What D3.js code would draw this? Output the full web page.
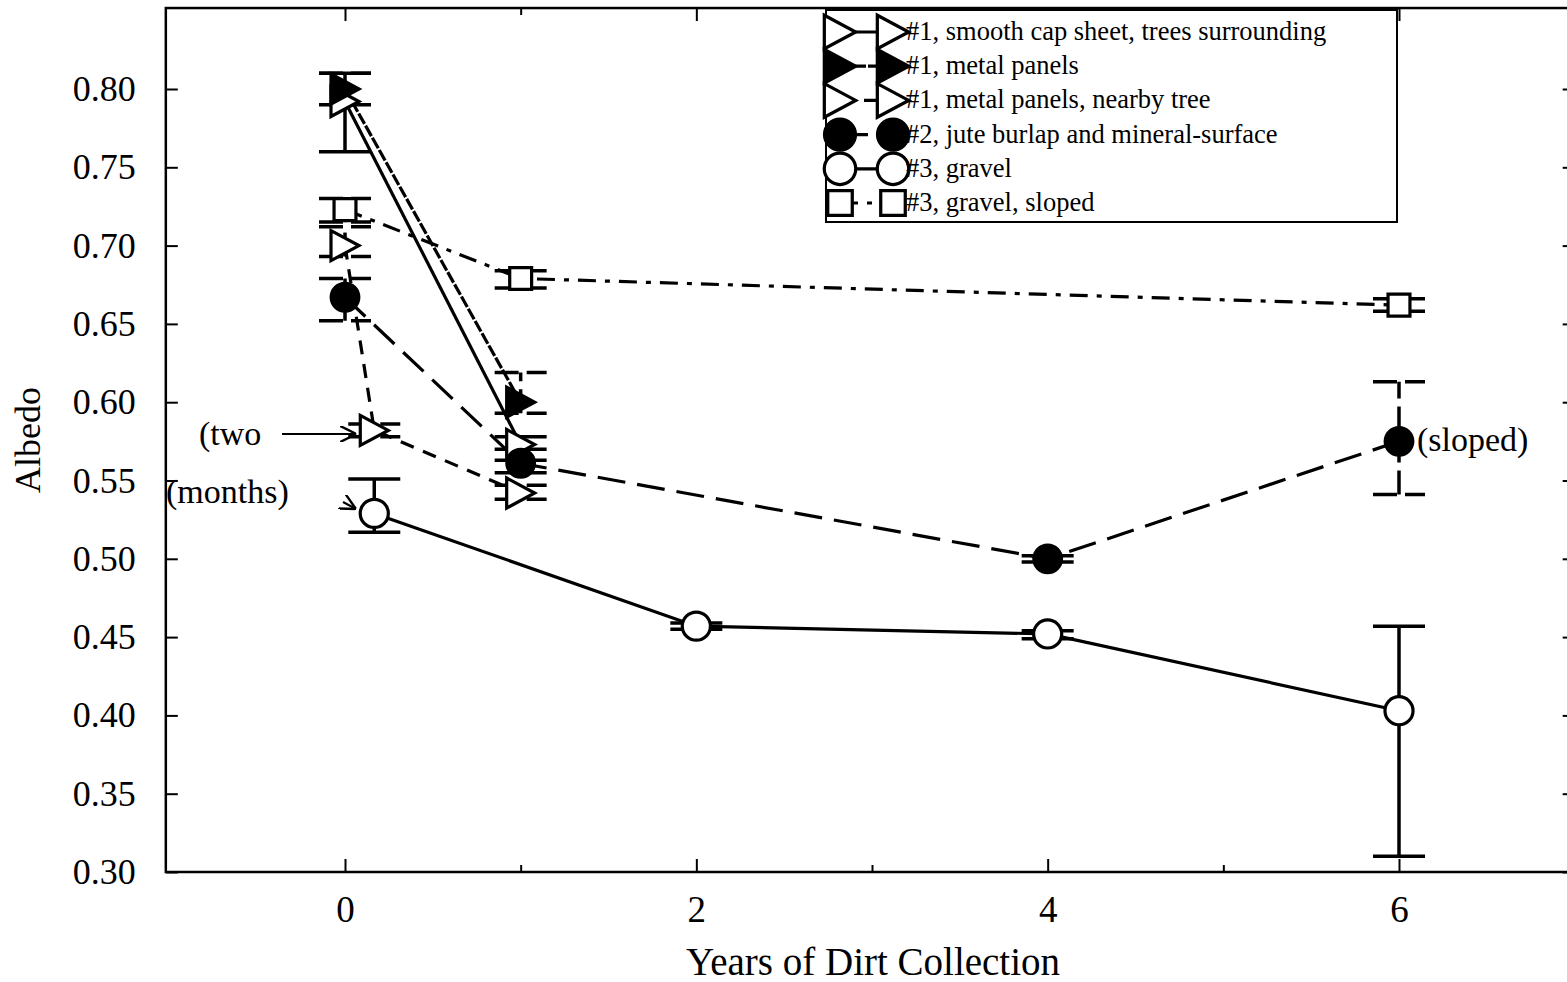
<!DOCTYPE html>
<html>
<head>
<meta charset="utf-8">
<script src="https://cdn.jsdelivr.net/npm/d3@7"></script>
<style>
  body { margin: 0; background: #fff; }
  svg { display: block; }
  text { font-family: "Liberation Serif", "DejaVu Serif", serif; fill: #000; }
</style>
</head>
<body>
<svg id="chart" width="1567" height="982"></svg>
<script>
// values
const yTicks = [0.30, 0.35, 0.40, 0.45, 0.50, 0.55, 0.60, 0.65, 0.70, 0.75, 0.80];
const xMajor = [0, 2, 4, 6];
const xMinor = [1, 3, 5];

const capX  = [0, 1];
const capY  = [0.792, 0.573];
const capLo = [0.760, 0.563];
const capHi = [0.810, 0.578];

const metalX  = [0, 1];
const metalY  = [0.800, 0.600];
const metalLo = [0.790, 0.593];
const metalHi = [0.810, 0.619];

const treeX  = [0, 2 / 12, 1];
const treeY  = [0.700, 0.582, 0.542];
const treeLo = [0.693, 0.578, 0.538];
const treeHi = [0.712, 0.586, 0.547];

const juteX  = [0, 1, 4, 6];
const juteY  = [0.667, 0.561, 0.500, 0.575];
const juteLo = [0.652, 0.555, 0.498, 0.541];
const juteHi = [0.679, 0.570, 0.502, 0.613];

const gravelX  = [2 / 12, 2, 4, 6];
const gravelY  = [0.529, 0.457, 0.452, 0.403];
const gravelLo = [0.517, 0.455, 0.449, 0.310];
const gravelHi = [0.551, 0.459, 0.454, 0.457];

const slopedX  = [0, 1, 6];
const slopedY  = [0.723, 0.679, 0.662];
const slopedLo = [0.715, 0.673, 0.658];
const slopedHi = [0.730, 0.684, 0.666];

const seriesNames = [
  "#1, smooth cap sheet, trees surrounding",
  "#1, metal panels",
  "#1, metal panels, nearby tree",
  "#2, jute burlap and mineral-surface",
  "#3, gravel",
  "#3, gravel, sloped"
];

const svg = d3.select("#chart");

const x = d3.scaleLinear().domain([0, 6]).range([345, 1399]);
const y = d3.scaleLinear().domain([0.30, 0.80]).range([872, 89]);
const xMin = -1.02, xMax = 7, yMax = 0.8517;

// marker shapes
const triPath = "M-14,-15L14,0L-14,15Z";
const shapes = {
  triOpen:  { d: triPath, fill: "#fff" },
  triFill:  { d: triPath, fill: "#000" },
  circFill: { d: d3.symbol(d3.symbolCircle, 600)(), fill: "#000" },
  circOpen: { d: d3.symbol(d3.symbolCircle, 620)(), fill: "#fff" },
  square:   { d: d3.symbol(d3.symbolSquare, 480)(), fill: "#fff" }
};

const series = [
  { xs: capX,    ys: capY,    lo: capLo,    hi: capHi,    shape: "triOpen",  dash: null },
  { xs: metalX,  ys: metalY,  lo: metalLo,  hi: metalHi,  shape: "triFill",  dash: "12,2" },
  { xs: treeX,   ys: treeY,   lo: treeLo,   hi: treeHi,   shape: "triOpen",  dash: "14,10" },
  { xs: juteX,   ys: juteY,   lo: juteLo,   hi: juteHi,   shape: "circFill", dash: "28,12" },
  { xs: gravelX, ys: gravelY, lo: gravelLo, hi: gravelHi, shape: "circOpen", dash: null },
  { xs: slopedX, ys: slopedY, lo: slopedLo, hi: slopedHi, shape: "square",   dash: "18,9,5,9" }
];
series.forEach((s, i) => {
  s.name = seriesNames[i];
  s.pts = s.xs.map((v, j) => ({ x: v, y: s.ys[j], lo: s.lo[j], hi: s.hi[j] }));
});

// frame
svg.append("rect")
  .attr("x", x(xMin)).attr("y", y(yMax))
  .attr("width", x(xMax) - x(xMin)).attr("height", y(0.30) - y(yMax))
  .attr("fill", "none").attr("stroke", "#000").attr("stroke-width", 2.5);

// axes (inward ticks)
const axLeft = svg.append("g").attr("transform", `translate(${x(xMin)},0)`)
  .call(d3.axisLeft(y).tickValues(yTicks).tickSize(-12).tickPadding(30).tickFormat(d3.format(".2f")));
const axRight = svg.append("g").attr("transform", `translate(${x(xMax)},0)`)
  .call(d3.axisRight(y).tickValues(yTicks).tickSize(-12).tickFormat(""));
const axBottom = svg.append("g").attr("transform", `translate(0,${y(0.30)})`)
  .call(d3.axisBottom(x).tickValues(xMajor).tickSize(-13).tickPadding(24).tickFormat(d3.format("d")));
const axBottomMinor = svg.append("g").attr("transform", `translate(0,${y(0.30)})`)
  .call(d3.axisBottom(x).tickValues(xMinor).tickSize(-7).tickFormat(""));
const axTop = svg.append("g").attr("transform", `translate(0,${y(yMax)})`)
  .call(d3.axisTop(x).tickValues(xMajor).tickSize(-13).tickFormat(""));
const axTopMinor = svg.append("g").attr("transform", `translate(0,${y(yMax)})`)
  .call(d3.axisTop(x).tickValues(xMinor).tickSize(-7).tickFormat(""));

[axLeft, axRight, axBottom, axBottomMinor, axTop, axTopMinor].forEach(g => {
  g.select(".domain").remove();
  g.selectAll(".tick line").attr("stroke", "#000").attr("stroke-width", 2);
  g.selectAll(".tick text").attr("font-family", "Liberation Serif").attr("fill", "#000");
});
axLeft.selectAll(".tick text").attr("font-size", 36);
axBottom.selectAll(".tick text").attr("font-size", 37).attr("dy", "0.71em");

svg.append("text")
  .attr("x", 873).attr("y", 975)
  .attr("text-anchor", "middle").attr("font-size", 39)
  .text("Years of Dirt Collection");
svg.append("text")
  .attr("transform", "translate(40,440) rotate(-90)")
  .attr("text-anchor", "middle").attr("font-size", 36)
  .text("Albedo");

// lines
const line = d3.line().x(d => x(d.x)).y(d => y(d.y));
series.forEach(s => {
  svg.append("path")
    .attr("d", line(s.pts))
    .attr("fill", "none").attr("stroke", "#000").attr("stroke-width", 3.2)
    .attr("stroke-dasharray", s.dash);
});

// error bars
series.forEach(s => {
  const g = svg.append("g").attr("stroke", "#000").attr("stroke-width", 3.5)
    .attr("stroke-dasharray", s.dash ? "24,8" : null);
  s.pts.forEach(p => {
    g.append("line").attr("x1", x(p.x)).attr("x2", x(p.x)).attr("y1", y(p.lo)).attr("y2", y(p.hi));
    [p.lo, p.hi].forEach(v => {
      g.append("line").attr("x1", x(p.x) - 26).attr("x2", x(p.x) + 26).attr("y1", y(v)).attr("y2", y(v));
    });
  });
});

// markers
series.forEach(s => {
  const sh = shapes[s.shape];
  svg.append("g").selectAll("path").data(s.pts).join("path")
    .attr("transform", d => `translate(${x(d.x)},${y(d.y)})`)
    .attr("d", sh.d).attr("fill", sh.fill)
    .attr("stroke", "#000").attr("stroke-width", 3.2);
});

// annotations
const ann = svg.append("g").attr("font-size", 34);
ann.append("text").attr("x", 199).attr("y", 445).text("(two");
ann.append("text").attr("x", 166).attr("y", 503).text("(months)");
ann.append("text").attr("x", x(6) + 18).attr("y", y(0.575) + 10).text("(sloped)");

svg.append("defs").append("marker")
  .attr("id", "arr").attr("viewBox", "0 0 10 10").attr("refX", 10).attr("refY", 5)
  .attr("markerWidth", 8).attr("markerHeight", 8).attr("orient", "auto")
  .append("path").attr("d", "M0,0L10,5L0,10").attr("fill", "none").attr("stroke", "#000").attr("stroke-width", 1.5);
svg.append("line").attr("x1", 282).attr("y1", 434).attr("x2", x(2 / 12) - 18).attr("y2", 434)
  .attr("stroke", "#000").attr("stroke-width", 2).attr("marker-end", "url(#arr)");
svg.append("line").attr("x1", 343).attr("y1", 502).attr("x2", 356).attr("y2", 509)
  .attr("stroke", "#000").attr("stroke-width", 2).attr("marker-end", "url(#arr)");

// legend
const lg = svg.append("g").attr("transform", "translate(826,10)");
lg.append("rect").attr("width", 571).attr("height", 212)
  .attr("fill", "#fff").attr("stroke", "#000").attr("stroke-width", 2);
series.forEach((s, i) => {
  const ry = 22 + i * 34.2;
  const sh = shapes[s.shape];
  lg.append("line").attr("x1", 14).attr("x2", 67).attr("y1", ry).attr("y2", ry)
    .attr("stroke", "#000").attr("stroke-width", 3.2).attr("stroke-dasharray", s.dash);
  [14, 67].forEach(mx => {
    lg.append("path").attr("transform", `translate(${mx},${ry}) scale(1.12)`)
      .attr("d", sh.d).attr("fill", sh.fill).attr("stroke", "#000").attr("stroke-width", 2.9);
  });
  lg.append("text").attr("x", 80).attr("y", ry + 8).attr("font-size", 26.5).text(s.name);
});
</script>
</body>
</html>
